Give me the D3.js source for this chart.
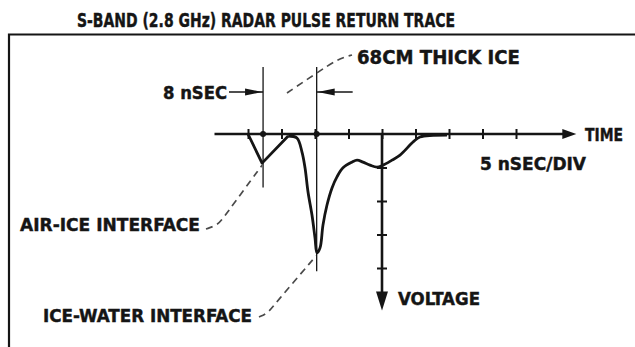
<!DOCTYPE html>
<html>
<head>
<meta charset="utf-8">
<script src="https://cdn.jsdelivr.net/npm/d3@7"></script>
<style>
  html, body { margin: 0; padding: 0; background: #fff; }
  svg { display: block; }
  text { font-family: "DejaVu Sans Condensed", "DejaVu Sans", sans-serif; font-weight: bold; fill: #151515; stroke: #151515; stroke-width: 0.4; }
</style>
</head>
<body>
<svg id="chart" width="635" height="347"></svg>
<script>
// time in nSEC, voltage in screen divisions (negative = downward on the scope)
const timeTicks = [0, 5, 10, 15, 20, 25, 30, 35, 40];
const voltageTicks = [-1, -2, -3, -4];

// air-ice reflection (sharp V)
const airIceTime = [0, 2.1, 6.0];
const airIceVolt = [0, -0.87, -0.06];

// ice-water reflection and tail
const returnTime = [6.0, 7.3, 8.06, 8.51, 8.96, 9.55, 10.0, 10.3, 10.75, 11.19, 11.79, 12.54, 13.28, 14.18, 15.52, 16.27, 17.16, 18.21, 19.25, 20.15, 21.49, 22.69, 24.63, 25.67, 29.7];
const returnVolt = [-0.06, -0.12, -0.54, -1.01, -1.73, -2.42, -3.10, -3.55, -3.40, -2.72, -2.12, -1.61, -1.28, -1.01, -0.84, -0.78, -0.84, -0.93, -0.99, -0.93, -0.78, -0.63, -0.24, -0.09, -0.03];

// the two interfaces, 8 nSEC apart
const markerTimes = [2.25, 10.25];

const ink = '#151515';
const svg = d3.select('#chart');

const x = d3.scaleLinear().domain([0, 40]).range([248, 516]);
const y = d3.scaleLinear().domain([0, -4]).range([134, 268]);

// frame + title
svg.append('path')
  .attr('d', 'M9,347 L9,34.5 L635,34.5')
  .attr('fill', 'none').attr('stroke', ink).attr('stroke-width', 2.2);

svg.append('text')
  .attr('x', 77).attr('y', 26.5)
  .attr('font-size', 20)
  .attr('textLength', 378).attr('lengthAdjust', 'spacingAndGlyphs')
  .text('S-BAND (2.8 GHz) RADAR PULSE RETURN TRACE');

// time axis
const xAxis = svg.append('g')
  .attr('transform', `translate(0,${y(0)})`)
  .call(d3.axisBottom(x).tickValues(timeTicks).tickSize(10).tickFormat(''));
xAxis.select('.domain').remove();
xAxis.selectAll('.tick line')
  .attr('y1', -5).attr('y2', 5)
  .attr('stroke', ink).attr('stroke-width', 2);

svg.append('line')
  .attr('x1', x(-5)).attr('x2', x(47.5))
  .attr('y1', y(0)).attr('y2', y(0))
  .attr('stroke', ink).attr('stroke-width', 2.4);
svg.append('path')
  .attr('d', `M${x(49)},${y(0)} L${x(49) - 14},${y(0) - 5} L${x(49) - 14},${y(0) + 5} Z`)
  .attr('fill', ink);

// voltage axis
const vx = x(20);
const yAxis = svg.append('g')
  .attr('transform', `translate(${vx},0)`)
  .call(d3.axisLeft(y).tickValues(voltageTicks).tickSize(10).tickFormat(''));
yAxis.select('.domain').remove();
yAxis.selectAll('.tick line')
  .attr('x1', -5).attr('x2', 5)
  .attr('stroke', ink).attr('stroke-width', 2);

svg.append('line')
  .attr('x1', vx).attr('x2', vx)
  .attr('y1', y(0)).attr('y2', y(-4.8))
  .attr('stroke', ink).attr('stroke-width', 2.6);
svg.append('path')
  .attr('d', `M${vx},${y(-5.27)} L${vx - 6},${y(-4.7)} L${vx + 6},${y(-4.7)} Z`)
  .attr('fill', ink);

// interface markers
markerTimes.forEach((t, i) => {
  svg.append('line')
    .attr('x1', x(t)).attr('x2', x(t))
    .attr('y1', 67).attr('y2', i === 0 ? y(-1.6) : y(-4.1))
    .attr('stroke', ink).attr('stroke-width', 1.3);
  svg.append('circle')
    .attr('cx', x(t)).attr('cy', y(0)).attr('r', 3)
    .attr('fill', ink);
});

// 8 nSEC arrows
const arrowY = 92;
svg.append('line')
  .attr('x1', 229).attr('x2', x(markerTimes[0]))
  .attr('y1', arrowY).attr('y2', arrowY)
  .attr('stroke', ink).attr('stroke-width', 1.6);
svg.append('path')
  .attr('d', `M${x(markerTimes[0]) - 1},${arrowY} L${x(markerTimes[0]) - 18},${arrowY - 3.5} L${x(markerTimes[0]) - 18},${arrowY + 3.5} Z`)
  .attr('fill', ink);
svg.append('line')
  .attr('x1', x(markerTimes[1])).attr('x2', x(markerTimes[1]) + 36)
  .attr('y1', arrowY).attr('y2', arrowY)
  .attr('stroke', ink).attr('stroke-width', 1.6);
svg.append('path')
  .attr('d', `M${x(markerTimes[1]) + 1},${arrowY} L${x(markerTimes[1]) + 18},${arrowY - 3.5} L${x(markerTimes[1]) + 18},${arrowY + 3.5} Z`)
  .attr('fill', ink);

// trace
const airIce = airIceTime.map((t, i) => [t, airIceVolt[i]]);
const ret = returnTime.map((t, i) => [t, returnVolt[i]]);

svg.append('path')
  .datum(airIce)
  .attr('d', d3.line().x(d => x(d[0])).y(d => y(d[1])))
  .attr('fill', 'none').attr('stroke', ink).attr('stroke-width', 2.8)
  .attr('stroke-linejoin', 'round');
svg.append('path')
  .datum(ret)
  .attr('d', d3.line().curve(d3.curveCatmullRom.alpha(0.5)).x(d => x(d[0])).y(d => y(d[1])))
  .attr('fill', 'none').attr('stroke', ink).attr('stroke-width', 2.8)
  .attr('stroke-linejoin', 'round');

// dashed leaders
const leader = d3.line().curve(d3.curveBasis);
const dashed = p => svg.append('path')
  .attr('d', leader(p))
  .attr('fill', 'none').attr('stroke', '#4a4a4a').attr('stroke-width', 1.7)
  .attr('stroke-dasharray', '7,5');

dashed([[206, 229], [218, 225], [224, 217], [x(airIceTime[1]), y(airIceVolt[1]) + 2]]);
dashed([[259, 317], [268, 313], [274, 305], [x(10.3) - 1, y(-3.55) + 3]]);
dashed([[287, 93], [x(markerTimes[1]), 73], [338, 59], [352, 55]]);

// labels
const label = (txt, lx, ly, w, fs) => svg.append('text')
  .attr('x', lx).attr('y', ly)
  .attr('font-size', fs)
  .attr('textLength', w).attr('lengthAdjust', 'spacingAndGlyphs')
  .text(txt);

label('68CM THICK ICE', 357, 64, 163, 19);
label('8 nSEC', 163, 99, 64, 17);
label('TIME', 585, 141, 38, 17);
label('5 nSEC/DIV', 480, 170, 106, 17);
label('AIR-ICE INTERFACE', 20, 231, 180, 18);
label('ICE-WATER INTERFACE', 43, 322, 209, 18);
label('VOLTAGE', 398, 305, 82, 18);
</script>
</body>
</html>
